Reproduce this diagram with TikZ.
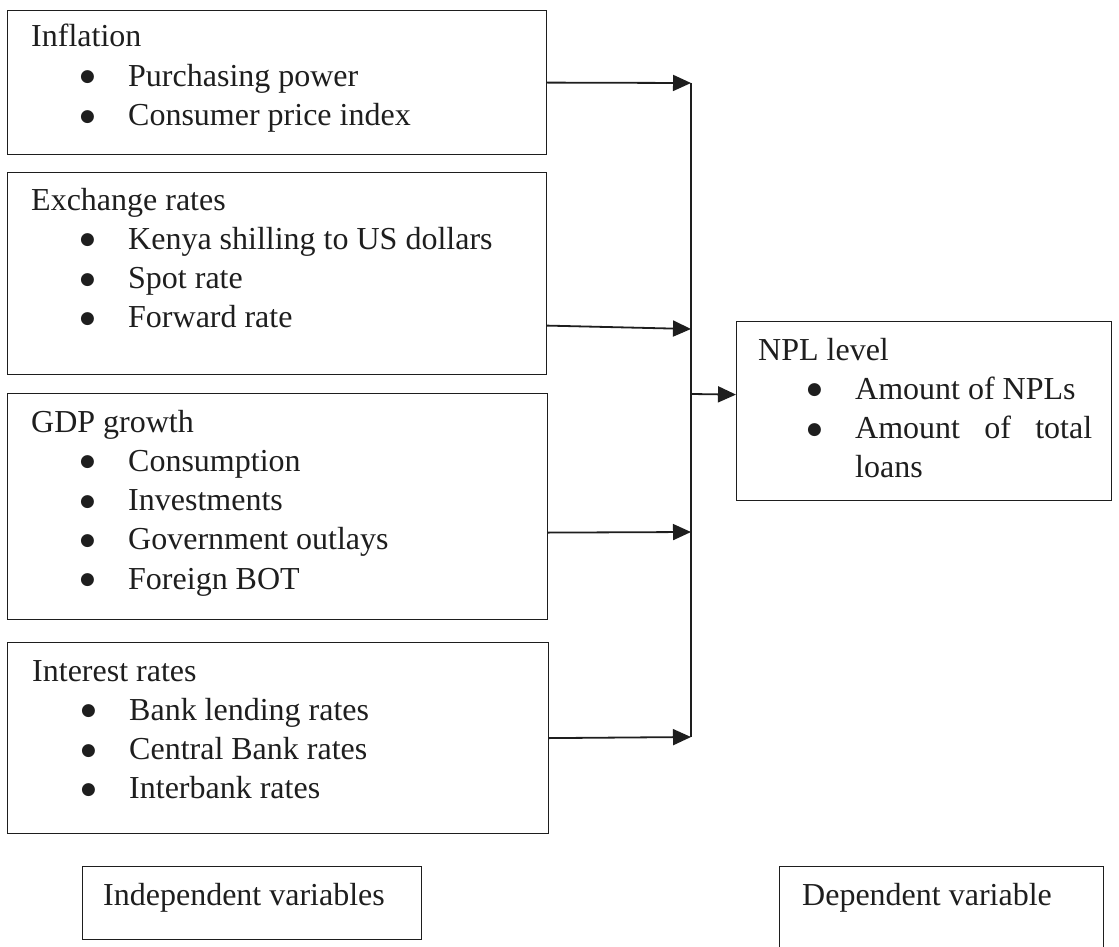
\documentclass[tikz,border=0pt]{standalone}
\usepackage{fontspec}
\setmainfont{Liberation Serif}
\newfontfamily\dotfont{DejaVu Sans}
\usetikzlibrary{arrows.meta}
\definecolor{ink}{HTML}{1E1E1E}
\newcommand{\bul}[1]{\hspace*{49pt}\makebox[48pt][l]{\raisebox{4.5pt}{\dotfont\fontsize{17}{17}\selectfont ●}}#1}

\begin{document}
\begin{tikzpicture}[x=1pt,y=-1pt,
  box/.style={draw=ink, line width=1.2pt, inner sep=0pt, anchor=north west},
  txt/.style={inner sep=0pt, anchor=base west, text=ink, font=\fontsize{32}{39.3}\selectfont},
  link/.style={draw=ink, line width=1.8pt, -{Triangle[length=18pt,width=16pt]}}]
\useasboundingbox (0,0) rectangle (1119,947);
% Cadres des variables indépendantes
\node[box, minimum width=539pt, minimum height=144pt] (inf) at (7,10) {};
\node[box, minimum width=539pt, minimum height=202pt] (exr) at (7,172) {};
\node[box, minimum width=540pt, minimum height=226pt] (gdp) at (7,393) {};
\node[box, minimum width=541pt, minimum height=191pt] (intr) at (7,642) {};
% Cadre de la variable dépendante
\node[box, minimum width=375pt, minimum height=179pt] (npl) at (736,321) {};
% Légendes
\node[box, minimum width=339pt, minimum height=73pt] (indep) at (82,866) {};
\node[box, minimum width=324pt, minimum height=100pt] (dep) at (779,866) {};
% Textes
\node[txt] (inftxt) at (31,47) {\begin{tabular}[t]{@{}l@{}}
  Inflation\\ \bul{Purchasing power}\\ \bul{Consumer price index}\end{tabular}};
\node[txt] (exrtxt) at (31,210) {\begin{tabular}[t]{@{}l@{}}
  Exchange rates\\ \bul{Kenya shilling to US dollars}\\ \bul{Spot rate}\\ \bul{Forward rate}\end{tabular}};
\node[txt] (gdptxt) at (31,432) {\begin{tabular}[t]{@{}l@{}}
  GDP growth\\ \bul{Consumption}\\ \bul{Investments}\\ \bul{Government outlays}\\ \bul{Foreign BOT}\end{tabular}};
\node[txt] (intrtxt) at (32,681) {\begin{tabular}[t]{@{}l@{}}
  Interest rates\\ \bul{Bank lending rates}\\ \bul{Central Bank rates}\\ \bul{Interbank rates}\end{tabular}};
\node[txt] (npltxt) at (758,360) {\begin{tabular}[t]{@{}l@{}}
  NPL level\\ \bul{Amount of NPLs}\\ \bul{\makebox[237pt][s]{Amount of total}}\\
  \hspace*{97pt}loans\end{tabular}};
\node[txt] (indeptxt) at (103,905) {Independent variables};
\node[txt] (deptxt) at (802,905) {Dependent variable};
% Bus vertical
\coordinate (bus1) at (691,83);
\coordinate (bus2) at (691,329);
\coordinate (bus3) at (691,532);
\coordinate (bus4) at (691,737);
\coordinate (bus5) at (691,394);
\draw[ink, line width=1.8pt] (bus1) -- (bus4);
% Flèches
\draw[link] (inf.east) -- (bus1);
\draw[link] ([yshift=-52pt]exr.east) -- (bus2);
\draw[link] ([yshift=-26pt]gdp.east) -- (bus3);
\draw[link] (intr.east) -- (bus4);
\draw[link] (bus5) -- ([yshift=16.5pt]npl.west);
\end{tikzpicture}
\end{document}
